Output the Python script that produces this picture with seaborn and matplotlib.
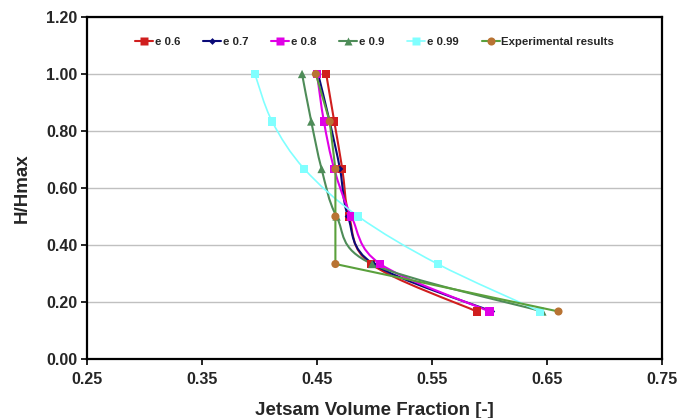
import numpy as np
import pandas as pd
import matplotlib
matplotlib.use("Agg")
import matplotlib.pyplot as plt
from matplotlib.path import Path
from matplotlib.patches import PathPatch
from matplotlib.lines import Line2D
import seaborn as sns

# ---- data ----
h_levels = [1.0, 0.8333, 0.6667, 0.5, 0.3333, 0.1667]
e06 = [0.458, 0.465, 0.472, 0.478, 0.497, 0.589]
e07 = [0.451, 0.461, 0.470, 0.477, 0.499, 0.602]
e08 = [0.450, 0.456, 0.465, 0.480, 0.505, 0.600]
e09 = [0.437, 0.445, 0.454, 0.467, 0.498, 0.646]
e099 = [0.396, 0.411, 0.439, 0.486, 0.555, 0.644]
experimental = [0.449, 0.461, 0.466, 0.466, 0.466, 0.660]

series_names = ["e 0.6", "e 0.7", "e 0.8", "e 0.9", "e 0.99", "Experimental results"]
x_ticks = [0.25, 0.35, 0.45, 0.55, 0.65, 0.75]
y_ticks = [0.0, 0.2, 0.4, 0.6, 0.8, 1.0, 1.2]

sns.set_style("white")
plt.rcParams['font.family'] = ['Liberation Sans', 'DejaVu Sans']
plt.rcParams['font.weight'] = 'bold'

fig = plt.figure(figsize=(6.9, 4.18), dpi=100)
ax = fig.add_axes([87/690, 1 - 359/418, (662-87)/690, (359-17)/418])


def smooth_path(xs, ys):
    pts = np.column_stack([xs, ys])
    n = len(pts)
    verts = [pts[0]]
    codes = [Path.MOVETO]
    for i in range(n - 1):
        p0 = pts[i - 1] if i > 0 else pts[i]
        p1 = pts[i]
        p2 = pts[i + 1]
        p3 = pts[i + 2] if i + 2 < n else pts[i + 1]
        c1 = p1 + (p2 - p0) / 6.0
        c2 = p2 - (p3 - p1) / 6.0
        verts += [c1, c2, p2]
        codes += [Path.CURVE4] * 3
    return Path(verts, codes)


styles = [
    (e06, "#D01E1E", "s", 34, 1.5),
    (e07, "#0A0A78", "D", 12, 1.5),
    (e08, "#E000E6", "s", 34, 1.5),
    (e09, "#4E8C58", "^", 36, 1.5),
    (e099, "#80FFFF", "s", 34, 1.2),
]

handles = []
for (vals, col, mk, s, lw), name in zip(styles, series_names[:5]):
    ax.add_patch(PathPatch(smooth_path(vals, h_levels), facecolor="none",
                           edgecolor=col, lw=lw, zorder=2))
    df = pd.DataFrame({"x": vals, "y": h_levels})
    sns.scatterplot(data=df, x="x", y="y", marker=mk, s=s, color=col,
                    edgecolor="none", ax=ax, zorder=3, legend=False)
    handles.append(Line2D([], [], color=col, lw=lw, marker=mk,
                          markersize=np.sqrt(s), markeredgecolor="none"))

exp_df = pd.DataFrame({"x": experimental, "y": h_levels})
sns.lineplot(data=exp_df, x="x", y="y", sort=False, estimator=None,
             color="#5AA03C", lw=1.5, ax=ax, zorder=4)
sns.scatterplot(data=exp_df, x="x", y="y", marker="o", s=34, color="#B87333",
                edgecolor="none", ax=ax, zorder=5, legend=False)
handles.append(Line2D([], [], color="#5AA03C", lw=1.5, marker="o",
                      markersize=np.sqrt(34), markerfacecolor="#B87333",
                      markeredgecolor="none"))

ax.set_xlim(0.25, 0.75)
ax.set_ylim(0.0, 1.2)
ax.set_xticks(x_ticks)
ax.set_yticks(y_ticks)
ax.set_xticklabels([f"{v:.2f}" for v in x_ticks], fontsize=11.5, fontweight="bold")
ax.set_yticklabels([f"{v:.2f}" for v in y_ticks], fontsize=11.5, fontweight="bold")
ax.tick_params(axis="x", direction="out", length=4, width=1.2, color="black",
               bottom=True, pad=5)
ax.tick_params(axis="y", direction="out", length=4, width=1.2, color="black",
               left=True, pad=3)
ax.yaxis.grid(True, color="#C0C0C0", lw=1)
ax.xaxis.grid(False)
ax.set_axisbelow(True)
for sp in ax.spines.values():
    sp.set_visible(True)
    sp.set_color("black")
    sp.set_linewidth(1.6)

ax.set_xlabel("Jetsam Volume Fraction [-]", fontsize=13.5, fontweight="bold", labelpad=11)
ax.set_ylabel("H/Hmax", fontsize=13.5, fontweight="bold", labelpad=11)

leg = ax.legend(handles, series_names, loc="center", bbox_to_anchor=(0.5, 1.112 / 1.2),
                ncol=6, frameon=False, prop={"size": 8.2, "weight": "bold"},
                handlelength=1.6, handletextpad=0.15, columnspacing=2.0,
                borderaxespad=0)

fig.savefig("out.png", dpi=100)
